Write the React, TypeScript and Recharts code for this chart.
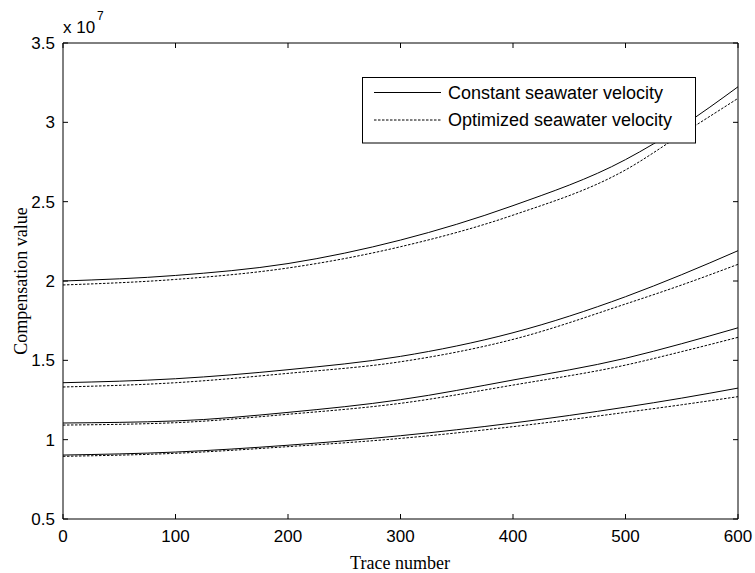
import React from 'react';
import { LineChart, Line, XAxis, YAxis, Legend } from 'recharts';

// Trace numbers (x) and compensation values in units of 1e7
const traces = [0, 100, 200, 300, 400, 500, 550, 600];

const constantA = [2.0, 2.035, 2.11, 2.258, 2.475, 2.765, 2.975, 3.224];
const optimizedA = [1.975, 2.01, 2.082, 2.216, 2.415, 2.7, 2.925, 3.151];
const constantB = [1.359, 1.384, 1.441, 1.525, 1.674, 1.901, 2.04, 2.191];
const optimizedB = [1.332, 1.359, 1.418, 1.491, 1.632, 1.855, 1.975, 2.105];
const constantC = [1.105, 1.118, 1.172, 1.252, 1.376, 1.513, 1.605, 1.705];
const optimizedC = [1.092, 1.107, 1.16, 1.229, 1.344, 1.47, 1.555, 1.645];
const constantD = [0.903, 0.922, 0.965, 1.025, 1.105, 1.205, 1.262, 1.325];
const optimizedD = [0.895, 0.914, 0.956, 1.008, 1.082, 1.172, 1.22, 1.271];

const xTicks = [0, 100, 200, 300, 400, 500, 600];
const yTicks = [0.5, 1, 1.5, 2, 2.5, 3, 3.5];

const legendLabels = ['Constant seawater velocity', 'Optimized seawater velocity'];

const seriesKeys = ['cA', 'oA', 'cB', 'oB', 'cC', 'oC', 'cD', 'oD'];
const seriesArrays = [constantA, optimizedA, constantB, optimizedB, constantC, optimizedC, constantD, optimizedD];

const data = traces.map((t, i) => {
  const row: Record<string, number> = { trace: t };
  seriesKeys.forEach((k, j) => {
    row[k] = seriesArrays[j][i];
  });
  return row;
});

const SANS = "Arial, 'Liberation Sans', Helvetica, sans-serif";
const SERIF = "'Times New Roman', 'Liberation Serif', Times, serif";
const DASH = '2.5 1.5';
const TICK_LEN = 5;
const BOTTOM_GAP = 11;
const LEFT_GAP = 8;

const BottomTick = (props: any) => {
  const { x, y, payload } = props;
  const axisY = y - BOTTOM_GAP;
  return (
    <g>
      <line x1={x} x2={x} y1={axisY} y2={axisY - TICK_LEN} stroke="#000" strokeWidth={1} />
      <text x={x} y={y + 12} textAnchor="middle" fontSize={17} fontFamily={SANS} fill="#000">
        {String(payload.value)}
      </text>
    </g>
  );
};

const LeftTick = (props: any) => {
  const { x, y, payload } = props;
  const axisX = x + LEFT_GAP;
  return (
    <g>
      <line x1={axisX} x2={axisX + TICK_LEN} y1={y} y2={y} stroke="#000" strokeWidth={1} />
      <text x={x} y={y + 6} textAnchor="end" fontSize={17} fontFamily={SANS} fill="#000">
        {String(payload.value)}
      </text>
    </g>
  );
};

const TopTick = (props: any) => {
  const { x, y } = props;
  return <line x1={x} x2={x} y1={y} y2={y + TICK_LEN} stroke="#000" strokeWidth={1} />;
};

const RightTick = (props: any) => {
  const { x, y } = props;
  return <line x1={x} x2={x - TICK_LEN} y1={y} y2={y} stroke="#000" strokeWidth={1} />;
};

const LegendBox = () => (
  <svg width={334} height={67} style={{ display: 'block' }}>
    <rect x={0.5} y={0.5} width={333} height={65.5} fill="#fff" stroke="#000" strokeWidth={1} />
    <line x1={12} x2={79} y1={15.5} y2={15.5} stroke="#000" strokeWidth={1} />
    <text x={86} y={21.5} fontSize={18} fontFamily={SANS} fill="#000">{legendLabels[0]}</text>
    <line x1={12} x2={79} y1={43} y2={43} stroke="#000" strokeWidth={1} strokeDasharray={DASH} />
    <text x={86} y={49} fontSize={18} fontFamily={SANS} fill="#000">{legendLabels[1]}</text>
  </svg>
);

export default function App() {
  return (
    <div style={{ width: 755, height: 573, position: 'relative', background: '#fff' }}>
      <style>{'body{margin:0;background:#fff;}'}</style>
      <LineChart
        width={755}
        height={573}
        data={data}
        margin={{ top: 42, right: 16, bottom: 24, left: 13 }}
      >
        <XAxis
          dataKey="trace"
          type="number"
          domain={[0, 600]}
          ticks={xTicks}
          interval={0}
          height={30}
          tickSize={0}
          tickLine={false}
          tickMargin={BOTTOM_GAP}
          stroke="#000"
          tick={<BottomTick />}
          allowDataOverflow
          label={() => (
            <text x={400} y={569} textAnchor="middle" fontSize={18} fontFamily={SERIF} fill="#000">
              Trace number
            </text>
          )}
        />
        <XAxis
          xAxisId="top"
          orientation="top"
          dataKey="trace"
          type="number"
          domain={[0, 600]}
          ticks={xTicks}
          interval={0}
          height={1}
          tickSize={0}
          tickMargin={0}
          tickLine={false}
          stroke="#000"
          tick={<TopTick />}
          allowDataOverflow
        />
        <YAxis
          type="number"
          domain={[0.5, 3.5]}
          ticks={yTicks}
          interval={0}
          width={50}
          tickSize={0}
          tickLine={false}
          tickMargin={LEFT_GAP}
          stroke="#000"
          tick={<LeftTick />}
          allowDataOverflow
          label={() => (
            <g>
              <text
                x={27}
                y={281}
                transform="rotate(-90 27 281)"
                textAnchor="middle"
                fontSize={18}
                fontFamily={SERIF}
                fill="#000"
              >
                Compensation value
              </text>
              <text x={63} y={33} fontSize={17} fontFamily={SANS} fill="#000">x 10</text>
              <text x={97} y={20} fontSize={12} fontFamily={SANS} fill="#000">7</text>
            </g>
          )}
        />
        <YAxis
          yAxisId="right"
          orientation="right"
          dataKey="cA"
          type="number"
          domain={[0.5, 3.5]}
          ticks={yTicks}
          interval={0}
          width={1}
          tickSize={0}
          tickMargin={0}
          tickLine={false}
          stroke="#000"
          tick={<RightTick />}
          allowDataOverflow
        />
        <Legend
          layout="vertical"
          align="center"
          verticalAlign="middle"
          wrapperStyle={{ position: 'absolute', left: 362, top: 77, width: 334, height: 67 }}
          content={() => <LegendBox />}
        />
        {seriesKeys.map((k, j) => (
          <Line
            key={k}
            dataKey={k}
            type="monotone"
            stroke="#000"
            strokeWidth={1}
            strokeDasharray={j % 2 === 1 ? DASH : undefined}
            dot={false}
            activeDot={false}
            isAnimationActive={false}
            legendType="none"
          />
        ))}
      </LineChart>
    </div>
  );
}
